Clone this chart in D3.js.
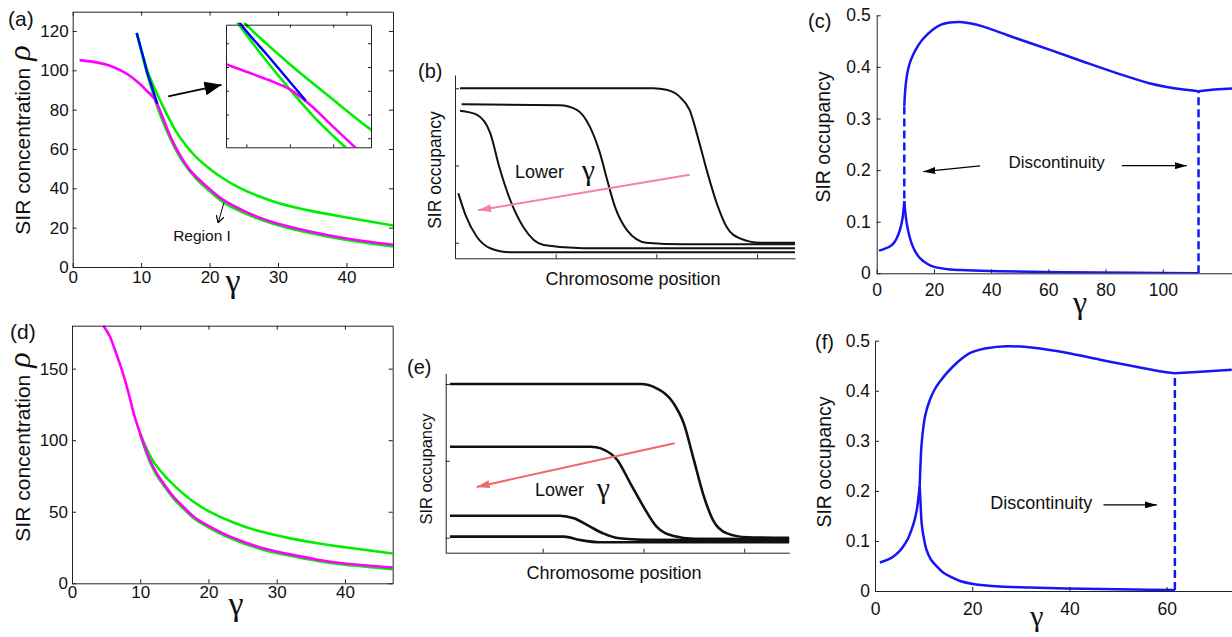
<!DOCTYPE html>
<html>
<head>
<meta charset="utf-8">
<script src="https://cdn.jsdelivr.net/npm/d3@7"></script>
<style>
  body { margin: 0; background: #fff; }
  text { font-family: "Liberation Sans", Arial, Helvetica, sans-serif; fill: #111; }
  .greek { font-family: "Liberation Serif", "DejaVu Serif", serif; }
</style>
</head>
<body>
<svg id="fig" width="1232" height="637"></svg>
<script>
// ---- tick values ----
const aGammaTicks = [0, 10, 20, 30, 40];
const aRhoTicks = [0, 20, 40, 60, 80, 100, 120];
const dRhoTicks = [0, 50, 100, 150];
const insetGammaTicks = [11, 12, 13];
const insetRhoTicks = [75, 80, 85, 90, 95];
const occTicks = [0, 0.1, 0.2, 0.3, 0.4, 0.5];
const cGammaTicks = [0, 20, 40, 60, 80, 100];
const fGammaTicks = [0, 20, 40, 60];
const posTicks = [1, 2, 3];
const profTicks = [0, 0.5, 1];

// ---- (a) rho vs gamma ----
const aMagenta = [[1,105.2],[3,104.3],[5,102.8],[7,100],[8,98],[9,95.5],[10,92.5],[10.53,90.6],[11,89],[11.5,87.3],[12,85.3],[12.5,81.8],[13,77.4],[13.5,73.1],[14,68.5],[15,61.2],[16,55],[17.1,49.4],[18,46],[20,39.6],[22,34.1],[25,28.5],[27,25.5],[30,22],[35,17.8],[40,14.5],[47,11.2]];
const aGreenLow = [[9.35,119],[10,110],[10.4,104.5],[10.83,98.9],[11.4,92],[12,85.3],[12.6,79.1],[13.28,73.1],[14,67.3],[15,60],[16,54],[18,45],[20,38.6],[22,33],[25,27.5],[30,21.2],[35,17],[40,13.8],[47,10.4]];
const aBlue = [[9.35,119],[10,110.6],[10.45,104.8],[10.88,98.9],[11.5,92.3],[12,86.9],[12.37,82.9]];
const aGreenUp = [[9.35,119],[10,110.8],[10.5,104.5],[11,98.9],[11.5,94.6],[12,90.6],[12.5,86.8],[13,83.1],[13.87,76.8],[15,69.5],[16,64.3],[18,56],[20,50],[22,45],[24.4,40.2],[27,36.2],[30,32.6],[35,28.4],[40,25.2],[47,21]];
const aBigArrow = [[13.96,86.7],[21.75,92.6]];
const aRegionArrow = [[22.1,32.7],[21.25,22.5]];
const aRegionText = [18.9, 13.2];

// ---- (d) rho vs gamma ----
const dMagenta = [[4.6,180],[5.5,173],[6.3,163],[7,153.5],[7.8,141.5],[8.5,129],[9,119.5],[10,104.5],[11.4,86.2],[12.4,77],[13.4,69.9],[14.8,61],[16.3,53.5],[18,46],[20.2,39.6],[22.5,34],[25.1,29.1],[28,24.5],[32,20.2],[36,16.5],[40,13.8],[47,11]];
const dGreenLow = [[10,104],[11.4,85.2],[12.4,75.9],[13.4,68.8],[14.8,59.8],[16.3,52.4],[18,45],[20.2,38.6],[22.5,33],[25.1,28.1],[28,23.6],[32,19.3],[36,15.7],[40,13],[47,10]];
const dGreenUp = [[10,104.4],[10.8,95.5],[12,84.5],[13.9,73.5],[15.5,66],[17.8,57],[20,50.5],[23.65,42.5],[27,37],[32,31.4],[36,28],[40,25.2],[47,20.8]];

// ---- (b) profiles ----
const bProf1 = [[0.05,1.0],[1.97,1.0],[2.10,0.99],[2.23,0.946],[2.33,0.86],[2.43,0.64],[2.50,0.47],[2.60,0.255],[2.70,0.10],[2.83,0.028],[3.03,0.0],[3.38,0.0]];
const bProf2 = [[0.066,0.896],[1.04,0.89],[1.21,0.86],[1.34,0.75],[1.44,0.58],[1.51,0.41],[1.59,0.23],[1.71,0.08],[1.90,0.0],[2.27,-0.01],[3.38,-0.01]];
const bProf3 = [[0.05,0.855],[0.215,0.83],[0.35,0.71],[0.44,0.49],[0.546,0.28],[0.68,0.10],[0.88,-0.015],[1.27,-0.036],[3.38,-0.036]];
const bProf4 = [[0.033,0.32],[0.11,0.17],[0.215,0.04],[0.35,-0.036],[0.546,-0.062],[3.38,-0.062]];
const bArrow = [[2.33,0.44],[0.23,0.21]];
const bLowerText = [0.596, 0.419];
const bGammaText = [1.258, 0.406];

// ---- (e) profiles ----
const eProf1 = [[0.08,1.0],[1.97,1.0],[2.05,0.993],[2.13,0.972],[2.30,0.874],[2.40,0.744],[2.50,0.506],[2.60,0.267],[2.69,0.115],[2.83,0.028],[3.03,0.003],[3.45,0.0]];
const eProf2 = [[0.08,0.592],[1.47,0.592],[1.53,0.588],[1.60,0.575],[1.74,0.506],[1.87,0.354],[2.00,0.202],[2.13,0.072],[2.30,0.011],[2.50,-0.007],[3.45,-0.01]];
const eProf3 = [[0.08,0.143],[1.17,0.143],[1.31,0.126],[1.47,0.072],[1.60,0.028],[1.76,-0.004],[2.01,-0.014],[3.45,-0.018]];
const eProf4 = [[0.08,0.007],[1.21,0.007],[1.37,-0.015],[1.57,-0.03],[3.45,-0.03]];
const eArrow = [[2.31,0.614],[0.345,0.33]];
const eLowerText = [0.924, 0.273];
const eGammaText = [1.536, 0.258];

// ---- (c) occupancy vs gamma ----
const cLowLeft = [[0.8,0.044],[2.5,0.047],[4.6,0.052],[6,0.059],[7,0.068],[8,0.082],[8.7,0.097],[9.2,0.113],[9.65,0.14]];
const cLowRight = [[9.65,0.14],[10,0.118],[10.5,0.097],[11.2,0.077],[12.2,0.058],[13.5,0.042],[15.2,0.029],[17.5,0.019],[19.8,0.013],[25,0.008],[31.5,0.006],[43,0.004],[66,0.002],[90,0.001],[112.5,0.0]];
const cUpper = [[9.65,0.324],[9.9,0.35],[10.3,0.373],[11,0.396],[12,0.414],[13.5,0.432],[16,0.453],[19.8,0.473],[22.5,0.482],[25.6,0.486],[29.1,0.487],[33,0.484],[37.3,0.478],[43,0.467],[49,0.455],[60.6,0.433],[72.3,0.41],[83.9,0.388],[95.6,0.368],[107.3,0.356],[112.5,0.353]];
const cUpperRight = [[112.5,0.353],[118,0.356],[124.2,0.358]];
const cJump1 = [[9.65,0.145],[9.65,0.324]];
const cJump2 = [[112.5,0],[112.5,0.353]];
const cText = [62.9, 0.216];
const cArrowL = [[36.1,0.208],[16.3,0.197]];
const cArrowR = [[85.7,0.2085],[108.4,0.2085]];

// ---- (f) occupancy vs gamma ----
const fLowLeft = [[1,0.057],[2.5,0.062],[3.8,0.069],[5,0.079],[5.8,0.089],[6.8,0.105],[7.5,0.122],[8.1,0.14],[8.6,0.162],[9.2,0.21]];
const fLowRight = [[9.2,0.21],[9.4,0.17],[9.6,0.135],[10,0.108],[10.6,0.082],[11.5,0.063],[12.7,0.049],[14,0.037],[15.4,0.029],[17.5,0.02],[20.2,0.014],[25.7,0.009],[32,0.007],[39.4,0.005],[53.2,0.003],[61.7,0.002]];
const fUpper = [[9.2,0.21],[9.35,0.25],[9.6,0.295],[10.3,0.349],[11.3,0.382],[12.3,0.403],[13.4,0.419],[16.1,0.449],[19.5,0.475],[23,0.485],[27.1,0.489],[32.6,0.486],[39.4,0.476],[46.3,0.462],[53.2,0.449],[58.6,0.439],[61.7,0.435]];
const fUpperRight = [[61.7,0.435],[67,0.438],[73.4,0.442]];
const fJump = [[61.7,0.002],[61.7,0.435]];
const fText = [34.2, 0.177];
const fArrow = [[47,0.172],[58,0.172]];

const MAGENTA = '#ff00ff', GREEN = '#00ee00', BLUE = '#0000ff', CBLUE = '#1515f5';
const AX = '#222';

const svg = d3.select('#fig');
const defs = svg.append('defs');

function marker(id, w, h, color, open) {
  const m = defs.append('marker').attr('id', id)
    .attr('markerUnits', 'userSpaceOnUse')
    .attr('viewBox', `0 0 ${w} ${h}`)
    .attr('markerWidth', w).attr('markerHeight', h)
    .attr('refX', w).attr('refY', h / 2)
    .attr('orient', 'auto');
  const p = m.append('path').attr('d', open ? `M0,0 L${w},${h/2} L0,${h}` : `M0,0 L${w},${h/2} L0,${h} Z`);
  if (open) p.attr('fill', 'none').attr('stroke', color).attr('stroke-width', 1.2);
  else p.attr('fill', color);
}
marker('headBig', 17, 14, '#000');
marker('headSmall', 12, 7, '#000');
marker('headOpen', 7, 8, '#000', true);
marker('headPink', 13, 8, '#f283a6');
marker('headRed', 13, 8, '#f06868');

function panel(p) {
  const x = d3.scaleLinear().domain(p.xDomain).range([p.left, p.right]);
  const y = d3.scaleLinear().domain(p.yDomain).range([p.bottom, p.top]);
  const clipId = 'clip-' + p.name;
  defs.append('clipPath').attr('id', clipId).append('rect')
    .attr('x', p.left).attr('y', p.top - 2)
    .attr('width', p.right - p.left).attr('height', p.bottom - p.top + 2);
  const g = svg.append('g');
  const plot = g.append('g').attr('clip-path', `url(#${clipId})`);
  return { x, y, g, plot, p };
}

function styleAxis(sel, size) {
  sel.attr('font-family', '"Liberation Sans", Arial, sans-serif').attr('font-size', size);
  sel.selectAll('.domain').attr('stroke', AX);
  sel.selectAll('.tick line').attr('stroke', AX);
  sel.selectAll('.tick text').attr('fill', '#111');
}

function axes(P, o) {
  const { x, y, g, p } = P;
  const fs = o.fontSize || 17;
  const bx = g.append('g').attr('transform', `translate(0,${p.bottom})`)
    .call(d3.axisBottom(x).tickValues(o.xTicks).tickSizeInner(-o.tick).tickSizeOuter(0)
      .tickPadding(o.xPad).tickFormat(o.xLabels ? d3.format('') : ''));
  styleAxis(bx, fs);
  const ly = g.append('g').attr('transform', `translate(${p.left},0)`)
    .call(d3.axisLeft(y).tickValues(o.yTicks).tickSizeInner(-o.tick).tickSizeOuter(0)
      .tickPadding(o.yPad).tickFormat(o.yLabels ? (o.yFmt || d3.format('')) : ''));
  styleAxis(ly, fs);
  if (o.box) {
    const tx = g.append('g').attr('transform', `translate(0,${p.top})`)
      .call(d3.axisTop(x).tickValues(o.xTicks).tickSizeInner(-o.tick).tickSizeOuter(0).tickFormat(''));
    styleAxis(tx, fs);
    const ry = g.append('g').attr('transform', `translate(${p.right},0)`)
      .call(d3.axisRight(y).tickValues(o.yTicks).tickSizeInner(-o.tick).tickSizeOuter(0).tickFormat(''));
    styleAxis(ry, fs);
  }
}

function curve(P, data, color, width, opts = {}) {
  let c = d3.curveCatmullRom.alpha(0.5);
  if (opts.linear) c = d3.curveLinear;
  if (opts.monotone) c = d3.curveMonotoneX;
  const line = d3.line().x(d => P.x(d[0])).y(d => P.y(d[1])).curve(c);
  const path = (opts.target || P.plot).append('path').datum(data)
    .attr('fill', 'none').attr('stroke', color).attr('stroke-width', width)
    .attr('stroke-linejoin', 'round').attr('stroke-linecap', 'butt')
    .attr('d', line);
  if (opts.dash) path.attr('stroke-dasharray', opts.dash);
  return path;
}

function arrow(P, pts, color, width, head) {
  P.g.append('line')
    .attr('x1', P.x(pts[0][0])).attr('y1', P.y(pts[0][1]))
    .attr('x2', P.x(pts[1][0])).attr('y2', P.y(pts[1][1]))
    .attr('stroke', color).attr('stroke-width', width)
    .attr('marker-end', `url(#${head})`);
}

function label(txt, x, y, size, opts = {}) {
  const t = svg.append('text').attr('x', x).attr('y', y).attr('font-size', size).text(txt);
  if (opts.anchor) t.attr('text-anchor', opts.anchor);
  if (opts.cls) t.attr('class', opts.cls);
  return t;
}

function yTitle(x, y, txt, size, greek, greekSize) {
  const t = svg.append('text').attr('transform', `translate(${x},${y}) rotate(-90)`)
    .attr('text-anchor', 'middle').attr('font-size', size);
  t.append('tspan').text(txt);
  if (greek) t.append('tspan').attr('class', 'greek').attr('font-style', 'italic')
    .attr('font-size', greekSize).attr('dx', 7).text(greek);
}

// ================= (a) =================
const A = panel({ name: 'a', left: 72.7, right: 393, top: 11.7, bottom: 267, xDomain: [0, 46.8], yDomain: [0, 129.8] });
curve(A, aGreenUp, GREEN, 2.6);
curve(A, aGreenLow, GREEN, 2.6);
curve(A, aMagenta, MAGENTA, 2.6);
curve(A, aBlue, BLUE, 2.4);
axes(A, { xTicks: aGammaTicks, yTicks: aRhoTicks, tick: 4, xPad: 4, yPad: 4, xLabels: true, yLabels: true, box: true, fontSize: 17 });
arrow(A, aBigArrow, '#000', 1.8, 'headBig');
arrow(A, aRegionArrow, '#000', 1, 'headOpen');
A.g.append('text').attr('x', A.x(aRegionText[0])).attr('y', A.y(aRegionText[1]))
  .attr('text-anchor', 'middle').attr('font-size', 15.5).text('Region I');

// inset of (a)
const AI = panel({ name: 'ai', left: 226, right: 371, top: 24.7, bottom: 147.3, xDomain: [10.53, 13.87], yDomain: [73.1, 98.9] });
AI.g.insert('rect', ':first-child').attr('x', 226).attr('y', 24.7).attr('width', 145).attr('height', 122.6).attr('fill', '#fff');
curve(AI, aGreenUp, GREEN, 2.6);
curve(AI, aGreenLow, GREEN, 2.6);
curve(AI, aMagenta, MAGENTA, 2.6);
curve(AI, aBlue, BLUE, 2.4);
axes(AI, { xTicks: insetGammaTicks, yTicks: insetRhoTicks, tick: 3, xPad: 3, yPad: 3, xLabels: false, yLabels: false, box: true });

label('(a)', 8, 26, 21);
yTitle(30, 140, 'SIR concentration', 21, 'ρ', 32);
label('γ', 233, 292, 34, { anchor: 'middle', cls: 'greek' });

// ================= (d) =================
const D = panel({ name: 'd', left: 72, right: 392.7, top: 325.7, bottom: 583.3, xDomain: [0, 47], yDomain: [0, 180] });
curve(D, dGreenUp, GREEN, 2.6);
curve(D, dGreenLow, GREEN, 2.8);
curve(D, dMagenta, MAGENTA, 2.6);
axes(D, { xTicks: aGammaTicks, yTicks: dRhoTicks, tick: 4, xPad: 3, yPad: 4, xLabels: true, yLabels: true, box: true, fontSize: 17 });
label('(d)', 10, 339, 21);
yTitle(30, 447, 'SIR concentration', 21, 'ρ', 32);
label('γ', 236, 615, 34, { anchor: 'middle', cls: 'greek' });

// ================= (b) =================
const B = panel({ name: 'b', left: 455, right: 795, top: 75, bottom: 258.3, xDomain: [0, 3.377], yDomain: [-0.101, 1.086] });
[bProf1, bProf2, bProf3, bProf4].forEach(d => curve(B, d, '#111', 2, { monotone: true }));
axes(B, { xTicks: posTicks, yTicks: profTicks, tick: 4, xPad: 3, yPad: 3, xLabels: false, yLabels: false });
arrow(B, bArrow, '#f283a6', 2, 'headPink');
B.g.append('text').attr('x', B.x(bLowerText[0])).attr('y', B.y(bLowerText[1])).attr('font-size', 18).text('Lower');
B.g.append('text').attr('class', 'greek').attr('x', B.x(bGammaText[0])).attr('y', B.y(bGammaText[1])).attr('font-size', 30).text('γ');
label('(b)', 418, 78, 20);
yTitle(441, 170, 'SIR occupancy', 17.5);
label('Chromosome position', 633, 285, 18, { anchor: 'middle' });

// ================= (e) =================
const E = panel({ name: 'e', left: 445.7, right: 789.3, top: 373.3, bottom: 552.7, xDomain: [0.038, 3.447], yDomain: [-0.0976, 1.0696] });
[eProf1, eProf2, eProf3, eProf4].forEach(d => curve(E, d, '#111', 2.6, { monotone: true }));
axes(E, { xTicks: posTicks, yTicks: profTicks, tick: 4, xPad: 3, yPad: 3, xLabels: false, yLabels: false });
arrow(E, eArrow, '#f06868', 2, 'headRed');
E.g.append('text').attr('x', E.x(eLowerText[0])).attr('y', E.y(eLowerText[1])).attr('font-size', 18).text('Lower');
E.g.append('text').attr('class', 'greek').attr('x', E.x(eGammaText[0])).attr('y', E.y(eGammaText[1])).attr('font-size', 30).text('γ');
label('(e)', 407, 374, 20);
yTitle(432, 469, 'SIR occupancy', 16.5);
label('Chromosome position', 614, 579, 18, { anchor: 'middle' });

// ================= (c) =================
const occFmt = d => d === 0 ? '0' : d.toFixed(1);
const C = panel({ name: 'c', left: 876.7, right: 1232, top: 15.3, bottom: 273.3, xDomain: [0, 124.2], yDomain: [0, 0.5] });
curve(C, cLowLeft, CBLUE, 2.5);
curve(C, cLowRight, CBLUE, 2.5);
curve(C, cUpper, CBLUE, 2.5);
curve(C, cUpperRight, CBLUE, 2.5, { linear: true });
curve(C, cJump1, CBLUE, 2.5, { linear: true, dash: '8,4' });
curve(C, cJump2, CBLUE, 2.5, { linear: true, dash: '8,4' });
axes(C, { xTicks: cGammaTicks, yTicks: occTicks, tick: 4, xPad: 10, yPad: 6, xLabels: true, yLabels: true, yFmt: occFmt, fontSize: 17.5 });
C.g.append('text').attr('x', C.x(cText[0])).attr('y', C.y(cText[1])).attr('dy', '0.35em')
  .attr('text-anchor', 'middle').attr('font-size', 17).text('Discontinuity');
arrow(C, cArrowL, '#000', 1.3, 'headSmall');
arrow(C, cArrowR, '#000', 1.3, 'headSmall');
label('(c)', 808, 28, 20);
yTitle(830, 137, 'SIR occupancy', 19.5);
label('γ', 1080, 313, 32, { anchor: 'middle', cls: 'greek' });

// ================= (f) =================
const F = panel({ name: 'f', left: 875, right: 1232, top: 340.7, bottom: 591, xDomain: [0, 73.45], yDomain: [0, 0.5] });
curve(F, fLowLeft, CBLUE, 2.5);
curve(F, fLowRight, CBLUE, 2.5);
curve(F, fUpper, CBLUE, 2.5);
curve(F, fUpperRight, CBLUE, 2.5, { linear: true });
curve(F, fJump, CBLUE, 2.5, { linear: true, dash: '8,4' });
axes(F, { xTicks: fGammaTicks, yTicks: occTicks, tick: 4, xPad: 12, yPad: 5, xLabels: true, yLabels: true, yFmt: occFmt, fontSize: 17.5 });
F.g.append('text').attr('x', F.x(fText[0])).attr('y', F.y(fText[1])).attr('dy', '0.35em')
  .attr('text-anchor', 'middle').attr('font-size', 18).text('Discontinuity');
arrow(F, fArrow, '#000', 1.3, 'headSmall');
label('(f)', 815, 349, 20);
yTitle(831, 462, 'SIR occupancy', 19.5);
label('γ', 1037, 626, 30, { anchor: 'middle', cls: 'greek' });
</script>
</body>
</html>
